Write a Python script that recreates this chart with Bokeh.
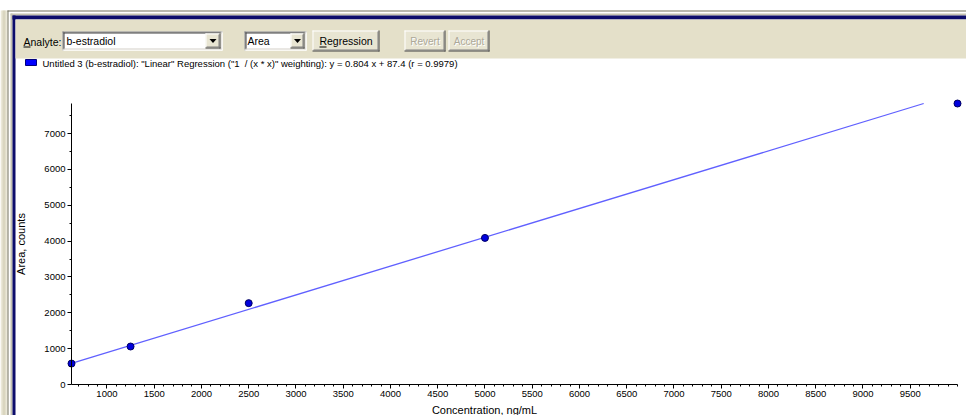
import math

from bokeh.core.properties import value
from bokeh.embed import file_html
from bokeh.models import FixedTicker, LinearAxis, Range1d
from bokeh.plotting import figure
from bokeh.resources import INLINE

# Calibration standards for b-estradiol
concentration = [625, 1250, 2500, 5000, 10000]   # ng/mL
peak_area = [585, 1060, 2270, 4090, 7840]        # counts

# Weighted (1 / x*x) linear regression reported for the curve
slope = 0.804
intercept = 87.4
r_value = 0.9979

x_tick_values = [1000, 1500, 2000, 2500, 3000, 3500, 4000, 4500, 5000,
                 5500, 6000, 6500, 7000, 7500, 8000, 8500, 9000, 9500]
x_tick_labels = ["1000", "1500", "2000", "2500", "3000", "3500", "4000", "4500", "5000",
                 "5500", "6000", "6500", "7000", "7500", "8000", "8500", "9000", "9500"]
y_tick_values = [0, 1000, 2000, 3000, 4000, 5000, 6000, 7000]
y_tick_labels = ["0", "1000", "2000", "3000", "4000", "5000", "6000", "7000"]

analyte_name = "b-estradiol"
response_kind = "Area"
x_title = "Concentration, ng/mL"
y_title = "Area, counts"
legend_text = ('Untitled 3 (%s): "Linear" Regression ("1\u00a0\u00a0/ (x * x)" weighting): '
               'y = %.3f x + %.1f (r = %.4f)' % (analyte_name, slope, intercept, r_value))

# ---------------------------------------------------------------- layout
W, H = 966, 415
AX_LEFT, AX_RIGHT, AX_TOP, AX_BOTTOM = 71, 957, 103, 384   # axes box in pixels
UI_FONT = "Liberation Sans"
PANEL = "#e4e0c9"
FACE = "#e8e5d2"
DARK = "#404040"
MID = "#808080"

p = figure(width=W, height=H,
           x_range=Range1d(0, W), y_range=Range1d(H, 0),
           x_axis_type=None, y_axis_type=None,
           toolbar_location=None, output_backend="svg",
           min_border=0, min_border_left=0, min_border_right=0,
           min_border_top=0, min_border_bottom=0,
           outline_line_color=None,
           background_fill_color="white", border_fill_color="white")

# data scales placed inside the full-canvas frame
x_lo, x_hi = concentration[0], concentration[-1]
y_lo, y_hi = 0, peak_area[-1]
kx = (x_hi - x_lo) / (AX_RIGHT - AX_LEFT)
ky = (y_hi - y_lo) / (AX_BOTTOM - AX_TOP)
p.extra_x_ranges = {"conc": Range1d(x_lo - AX_LEFT * kx, x_hi + (W - AX_RIGHT) * kx)}
p.extra_y_ranges = {"area": Range1d(y_lo - (H - AX_BOTTOM) * ky, y_hi + AX_TOP * ky)}


# ---------------------------------------------------------------- window chrome
def boxes(items):
    p.quad(left=[b[0] for b in items], right=[b[1] for b in items],
           top=[b[2] for b in items], bottom=[b[3] for b in items],
           fill_color=[b[4] for b in items], line_color=None)


boxes([
    (0, 7, 10, H, "#ebe8d8"),
    (2, 5, 10, H, "#dad6c0"),
    (7, W, 10, 11, "#75725f"),
    (7, 8, 10, H, "#75725f"),
    (10, W, 13, 15, "#c4c1b0"),
    (10, 12, 13, H, "#c4c1b0"),
    (12, W, 15, 19, "#0d0d6b"),
    (12, 15, 15, H, "#0d0d6b"),
    (15, W, 19, 58, PANEL),
])


def raised(l, r, t, b):
    boxes([
        (l, r, t, b, FACE),
        (l, r - 1, t, t + 1, "white"),
        (l, l + 1, t, b - 1, "white"),
        (l, r, b - 1, b, DARK),
        (r - 1, r, t, b, DARK),
        (l + 1, r - 1, b - 2, b - 1, MID),
        (r - 2, r - 1, t + 1, b - 1, MID),
    ])


def sunken(l, r, t, b):
    boxes([
        (l, r, t, b, "white"),
        (l, r, t, t + 1, MID),
        (l, l + 1, t, b, MID),
        (l + 1, r - 1, t + 1, t + 2, DARK),
        (l + 1, l + 2, t + 1, b - 1, DARK),
        (l, r, b - 1, b, "white"),
        (r - 1, r, t, b, "white"),
        (l + 1, r - 1, b - 2, b - 1, "#d4d0c8"),
        (r - 2, r - 1, t + 1, b - 1, "#d4d0c8"),
    ])


def arrow(cx, cy):
    p.patch(x=[cx - 3.5, cx + 3.5, cx], y=[cy - 2, cy - 2, cy + 2],
            fill_color="black", line_color=None)


def label(x, y, text, size="10.5px", color="black", align="left"):
    p.text(x=[x], y=[y], text=[text], text_font=value(UI_FONT),
           text_font_size=size, text_color=color,
           text_align=align, text_baseline="middle")


# analyte selector
label(23, 41, "Analyte:")
boxes([(23, 30, 46, 47, "black")])
sunken(62, 222, 31, 50)
label(66, 40.5, analyte_name)
raised(205, 220, 33, 48)
arrow(212.5, 40.5)

# response selector
sunken(244, 306, 31, 50)
label(247, 40.5, response_kind)
raised(290, 304, 33, 48)
arrow(297, 40.5)

# buttons
raised(312, 379, 30, 51)
label(345.5, 40.5, "Regression", align="center")
boxes([(319, 326, 46, 47, "black")])

for l, r, name in [(404, 445, "Revert"), (448, 489, "Accept")]:
    raised(l, r, 30, 51)
    label((l + r) / 2 + 1, 41.5, name, size="10px", color="white", align="center")
    label((l + r) / 2, 40.5, name, size="10px", color="#aca899", align="center")

# legend entry
p.quad(left=[25], right=[36], top=[59], bottom=[65],
       fill_color="#0000ff", line_color="#000080", line_width=1)
label(42, 62.5, legend_text, size="9.5px")

# axis titles
p.text(x=[20], y=[(AX_TOP + AX_BOTTOM) / 2], text=[y_title], angle=math.pi / 2,
       text_font=value(UI_FONT), text_font_size="11px", text_color="black",
       text_align="center", text_baseline="middle")
label(484, 409, x_title, size="11px", align="center")

# ---------------------------------------------------------------- calibration plot
x_minor = list(range(700, 10001, 100))
y_minor = [500, 1500, 2500, 3500, 4500, 5500, 6500, 7500]

xaxis = LinearAxis(x_range_name="conc", y_range_name="area",
                   fixed_location=y_lo, bounds=(x_lo, x_hi),
                   ticker=FixedTicker(ticks=x_tick_values, minor_ticks=x_minor),
                   major_label_overrides=dict(zip(x_tick_values, x_tick_labels)))
yaxis = LinearAxis(x_range_name="conc", y_range_name="area",
                   fixed_location=x_lo, bounds=(y_lo, y_hi),
                   ticker=FixedTicker(ticks=y_tick_values, minor_ticks=y_minor),
                   major_label_overrides=dict(zip(y_tick_values, y_tick_labels)))
for ax in (xaxis, yaxis):
    ax.axis_line_color = "black"
    ax.major_tick_line_color = "black"
    ax.minor_tick_line_color = "black"
    ax.major_tick_in = 0
    ax.major_tick_out = 4
    ax.minor_tick_in = 0
    ax.minor_tick_out = 2
    ax.major_label_standoff = 2
    ax.major_label_text_font = UI_FONT
    ax.major_label_text_font_size = "9.5px"
    ax.major_label_text_color = "black"
p.add_layout(xaxis, "below")
p.add_layout(yaxis, "left")

# regression line, drawn up to the top of the area axis
line_x = [x_lo, (y_hi - intercept) / slope]
line_y = [slope * v + intercept for v in line_x]
p.line(line_x, line_y, x_range_name="conc", y_range_name="area",
       line_color="#6060ff", line_width=1.3)

p.scatter(concentration, peak_area, x_range_name="conc", y_range_name="area",
          size=7, fill_color="#0000dd", line_color="#000060", line_width=1)

open("out.html", "w").write(file_html(p, INLINE))
